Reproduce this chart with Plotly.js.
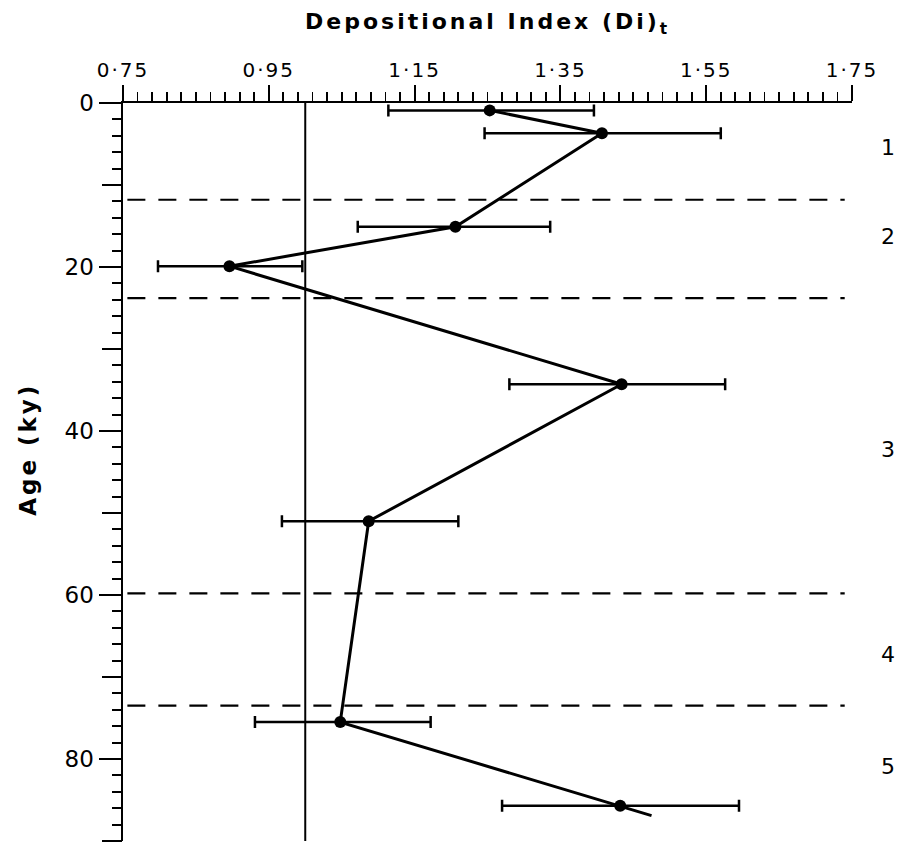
<!DOCTYPE html>
<html>
<head>
<meta charset="utf-8">
<script src="https://cdn.plot.ly/plotly-3.0.1.min.js"></script>
<style>html,body{margin:0;padding:0;background:#fff;}#chart{width:903px;height:843px;}</style>
</head>
<body>
<div id="chart"></div>
<script>
// Data
const age      = [0.9, 3.7, 15.1, 19.9, 34.3, 51.0, 75.5, 85.7];          // ky
const di       = [1.253, 1.407, 1.206, 0.896, 1.434, 1.087, 1.048, 1.432];
const diLow    = [1.114, 1.246, 1.072, 0.798, 1.280, 0.968, 0.931, 1.270];
const diHigh   = [1.396, 1.570, 1.336, 0.996, 1.576, 1.210, 1.172, 1.595];
const tailAge  = [86.9];
const tailDi   = [1.475];
const stageBoundaries = [11.8, 23.8, 59.8, 73.5];
const stageLabels = ['1', '2', '3', '4', '5'];
const stageLabelAge = [5.4, 16.3, 42.2, 67.3, 80.9];
const refDi = 1.0;
const xTickVals = [0.75, 0.95, 1.15, 1.35, 1.55, 1.75];
const xTickText = ['0·75', '0·95', '1·15', '1·35', '1·55', '1·75'];
const yTickVals = [0, 20, 40, 60, 80];
const yTickText = ['0', '20', '40', '60', '80'];
const yMidTickVals = [10, 30, 50, 70, 90];

const errPlus = di.map((v, i) => diHigh[i] - v);
const errMinus = di.map((v, i) => v - diLow[i]);

const FONT = 'DejaVu Sans, sans-serif';

const traces = [
  {
    x: di.concat(tailDi), y: age.concat(tailAge),
    type: 'scatter', mode: 'lines',
    line: {color: '#000', width: 3},
    hoverinfo: 'skip', showlegend: false
  },
  {
    x: di, y: age,
    type: 'scatter', mode: 'markers',
    marker: {color: '#000', size: 12, symbol: 'circle'},
    error_x: {type: 'data', symmetric: false, array: errPlus, arrayminus: errMinus,
              color: '#000', thickness: 2.5, width: 6},
    showlegend: false
  },
  {
    x: [refDi], y: [0], yaxis: 'y2', type: 'scatter', mode: 'markers',
    marker: {opacity: 0, size: 1}, hoverinfo: 'skip', showlegend: false
  }
];

const shapes = [
  {type: 'line', xref: 'x', yref: 'y', x0: refDi, x1: refDi, y0: 0, y1: 90,
   line: {color: '#000', width: 2}}
];
stageBoundaries.forEach(b => shapes.push({
  type: 'line', xref: 'paper', yref: 'y', x0: 0.006, x1: 0.99, y0: b, y1: b,
  line: {color: '#000', width: 2.2, dash: '18px,13px'}
}));

const annotations = [
  {text: 'Depositional Index (Di)<sub>t</sub>', xref: 'paper', yref: 'paper',
   x: 0.5, y: 1, yshift: 80, xanchor: 'center', yanchor: 'middle', showarrow: false,
   font: {family: FONT, size: 22, color: '#000', weight: 'bold'}},
  {text: 'Age (ky)', xref: 'paper', yref: 'paper', x: 0, xshift: -95, y: 0.53,
   textangle: -90, xanchor: 'center', yanchor: 'middle', showarrow: false,
   font: {family: FONT, size: 23, color: '#000', weight: 'bold'}}
];
stageLabels.forEach((s, i) => annotations.push({
  text: s, xref: 'paper', yref: 'y', x: 1, xshift: 36, y: stageLabelAge[i],
  xanchor: 'center', yanchor: 'middle', showarrow: false,
  font: {family: FONT, size: 22, color: '#000'}
}));

const layout = {
  width: 903, height: 843,
  margin: {l: 123, r: 51, t: 103, b: 2},
  paper_bgcolor: '#fff', plot_bgcolor: '#fff',
  showlegend: false,
  font: {family: FONT, color: '#000'},
  xaxis: {
    side: 'top', range: [0.75, 1.75], showgrid: false, zeroline: false,
    showline: true, linecolor: '#000', linewidth: 2.5,
    tickmode: 'array', tickvals: xTickVals, ticktext: xTickText,
    ticks: 'outside', ticklen: 16, tickwidth: 2, tickcolor: '#000',
    tickfont: {family: FONT, size: 20, color: '#000'},
    minor: {dtick: 0.02, tick0: 0.75, ticks: 'outside', ticklen: 9, tickwidth: 1.8, tickcolor: '#000'}
  },
  yaxis: {
    range: [90, 0], showgrid: false, zeroline: false,
    showline: true, linecolor: '#000', linewidth: 2.5,
    tickmode: 'array', tickvals: yTickVals, ticktext: yTickText,
    ticks: 'outside', ticklen: 22, tickwidth: 2, tickcolor: '#000',
    tickfont: {family: FONT, size: 23, color: '#000'},
    minor: {dtick: 2, tick0: 0, ticks: 'outside', ticklen: 9, tickwidth: 2, tickcolor: '#000'}
  },
  yaxis2: {
    overlaying: 'y', side: 'left', range: [90, 0], showgrid: false, zeroline: false,
    showline: false, showticklabels: false,
    tickmode: 'array', tickvals: yMidTickVals,
    ticks: 'outside', ticklen: 20, tickwidth: 2, tickcolor: '#000'
  },
  shapes: shapes,
  annotations: annotations
};

Plotly.newPlot('chart', traces, layout, {displayModeBar: false, staticPlot: true}).then(gd => {
  // mimic the wide letter spacing of the original lettering
  gd.querySelectorAll('.xtick text').forEach(t => { t.style.letterSpacing = '2px'; });
  gd.querySelectorAll('.annotation-text').forEach((t, i) => {
    if (i === 0) t.style.letterSpacing = '3px';
    if (i === 1) t.style.letterSpacing = '3px';
  });
});
</script>
</body>
</html>
